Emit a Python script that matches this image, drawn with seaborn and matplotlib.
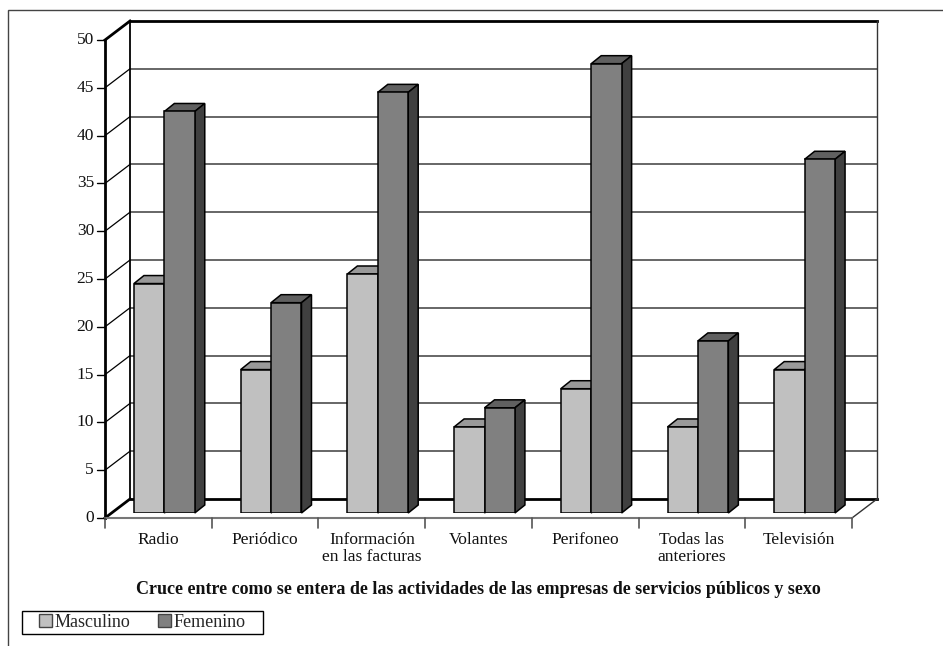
import pandas as pd
import seaborn as sns
import matplotlib.pyplot as plt
from matplotlib.patches import Polygon, Rectangle, Patch

categories = ["Radio", "Periódico", "Información\nen las facturas", "Volantes",
              "Perifoneo", "Todas las\nanteriores", "Televisión"]
series = ["Masculino", "Femenino"]
masculino = [24, 15, 25, 9, 13, 9, 15]
femenino = [42, 22, 44, 11, 47, 18, 37]
yticks = [0, 5, 10, 15, 20, 25, 30, 35, 40, 45, 50]
title = ("Cruce entre como se entera de las actividades de las empresas "
         "de servicios públicos y sexo")

front_colors = ["#C0C0C0", "#808080"]
top_colors = ["#999999", "#606060"]
side_colors = ["#707070", "#404040"]

df = pd.DataFrame({
    "categoria": categories * 2,
    "sexo": [series[0]] * len(categories) + [series[1]] * len(categories),
    "valor": masculino + femenino,
})

sns.set_theme(style="white")
plt.rcParams["font.family"] = ["Liberation Serif", "DejaVu Serif"]

W, H = 943, 646
fig = plt.figure(figsize=(W / 100, H / 100), dpi=100)
ax = fig.add_axes([111 / W, 1 - 513 / H, 747 / W, 478 / H])

sns.barplot(data=df, x="categoria", y="valor", hue="sexo", order=categories,
            hue_order=series, palette=front_colors, width=0.57, saturation=1,
            edgecolor="black", linewidth=1.1, legend=False, ax=ax)
n = len(categories)
ax.set_xlim(-0.5, n - 0.5)
ax.set_ylim(0, 50)
ax.axis("off")


def shift(x, y, dx, dy):
    # move a data point by a pixel offset (depth of the 3D look)
    p = ax.transData.transform((x, y))
    return tuple(ax.transData.inverted().transform((p[0] + dx, p[1] + dy)))


BACK = (19, 14)
FRONT = (-6, -5)
DEPTH = (10, 8)
x0, x1 = -0.5, n - 0.5

# back wall and gridlines
wall = [shift(x0, 0, *BACK), shift(x1, 0, *BACK), shift(x1, 50, *BACK), shift(x0, 50, *BACK)]
ax.add_patch(Polygon(wall, closed=True, facecolor="white", edgecolor="none", zorder=0.5, clip_on=False))
for t in yticks[1:-1]:
    a, b = shift(x0, t, *BACK), shift(x1, t, *BACK)
    ax.plot([a[0], b[0]], [a[1], b[1]], color="#5a5a5a", lw=1.3, zorder=1, clip_on=False)
    c = shift(x0, t, *FRONT)
    ax.plot([c[0], a[0]], [c[1], a[1]], color="black", lw=0.9, zorder=1, clip_on=False)

# wall edges
for (xa, ya, oa), (xb, yb, ob), col, lw in [
    ((x0, 50, BACK), (x1, 50, BACK), "black", 2.0),
    ((x0, 0, BACK), (x1, 0, BACK), "black", 2.0),
    ((x0, 0, BACK), (x0, 50, BACK), "black", 1.3),
    ((x1, 0, BACK), (x1, 50, BACK), "#333333", 1.0),
    ((x0, 50, FRONT), (x0, 50, BACK), "black", 2.0),
    ((x0, 0, FRONT), (x0, 0, BACK), "black", 2.0),
    ((x1, 0, FRONT), (x1, 0, BACK), "#333333", 1.0),
    ((x0, 0, FRONT), (x0, 50, FRONT), "black", 2.0),
    ((x0, 0, FRONT), (x1, 0, FRONT), "#777777", 1.5),
]:
    a, b = shift(xa, ya, *oa), shift(xb, yb, *ob)
    ax.plot([a[0], b[0]], [a[1], b[1]], color=col, lw=lw, zorder=1.2,
            solid_capstyle="projecting", clip_on=False)

# 3D top and side faces of the bars
for i, cont in enumerate(ax.containers):
    for bar in cont.patches:
        bx, bw, bh = bar.get_x(), bar.get_width(), bar.get_height()
        bar.set_zorder(3 + i)
        top = [(bx, bh), (bx + bw, bh), shift(bx + bw, bh, *DEPTH), shift(bx, bh, *DEPTH)]
        side = [(bx + bw, 0), shift(bx + bw, 0, *DEPTH), shift(bx + bw, bh, *DEPTH), (bx + bw, bh)]
        ax.add_patch(Polygon(top, closed=True, facecolor=top_colors[i], edgecolor="black",
                             lw=1.1, zorder=2.9 + i, clip_on=False))
        ax.add_patch(Polygon(side, closed=True, facecolor=side_colors[i], edgecolor="black",
                             lw=1.1, zorder=2.9 + i, clip_on=False))

# y ticks on the front axis
for t in yticks:
    a = shift(x0, t, *FRONT)
    b = shift(x0, t, FRONT[0] - 8, FRONT[1])
    ax.plot([b[0], a[0]], [b[1], a[1]], color="black", lw=1.0, zorder=2, clip_on=False)
    c = shift(x0, t, FRONT[0] - 11, FRONT[1])
    ax.text(c[0], c[1], str(t), ha="right", va="center", fontsize=12.5, color="#111111")

# category ticks and labels
for k in range(n + 1):
    a = shift(k - 0.5, 0, *FRONT)
    b = shift(k - 0.5, 0, FRONT[0], FRONT[1] - 10)
    ax.plot([a[0], b[0]], [a[1], b[1]], color="#555555", lw=1.2, zorder=2, clip_on=False)
for k, lab in enumerate(categories):
    c = shift(k, 0, FRONT[0], FRONT[1] - 14)
    ax.text(c[0], c[1], lab, ha="center", va="top", fontsize=12.5, color="#111111",
            linespacing=1.1)

fig.text(478.5 / W, 1 - 590 / H, title, ha="center", va="center", fontsize=13,
         fontweight="bold", color="#111111")

handles = [Patch(facecolor=front_colors[i], edgecolor="#444444", label=s)
           for i, s in enumerate(series)]
fig.legend(handles=handles, loc="center left", bbox_to_anchor=(39 / W, 1 - 622.5 / H),
           ncol=2, fontsize=13, frameon=False, handlelength=0.7, handleheight=0.7,
           handletextpad=0.15, columnspacing=1.55, borderpad=0, borderaxespad=0)
fig.add_artist(Rectangle((22 / W, 1 - 634 / H), 241 / W, 23 / H, transform=fig.transFigure,
                         fill=False, edgecolor="black", lw=1.0))

fig.add_artist(Rectangle((8 / W, -0.5), 2, 1.5 - 10 / H, transform=fig.transFigure,
                         fill=False, edgecolor="#444444", lw=1.0))

fig.savefig("out.png", dpi=100, facecolor="white")
